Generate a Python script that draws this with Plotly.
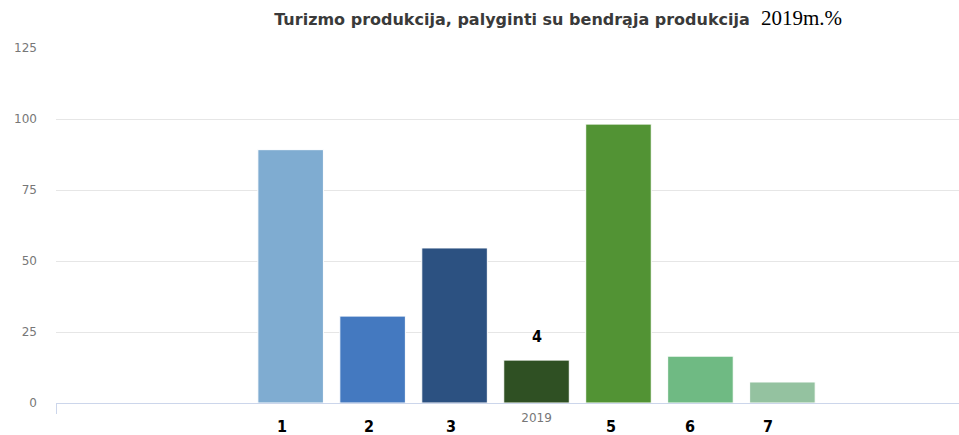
import plotly.graph_objects as go

category = ["2019"]
series_names = ["1", "2", "3", "4", "5", "6", "7"]
values = [89.2, 30.6, 54.6, 15.1, 98.2, 16.5, 7.4]
colors = ["#7FACD1", "#4479C0", "#2C5181", "#2F5023", "#529334", "#6FBA83", "#94C2A0"]
y_ticks = [0, 25, 50, 75, 100, 125]

BARGAP = 0.403
GROUPGAP = 0.2

fig = go.Figure()
for name, v, c in zip(series_names, values, colors):
    fig.add_trace(go.Bar(
        x=category, y=[v], name=name,
        marker=dict(color=c, line=dict(color="white", width=1)),
        showlegend=False, hoverinfo="y",
    ))

n = len(series_names)
slot = (1 - BARGAP) / n
label_xshift = [-9, -4, -4, 0, -7, -10, -14]
label_font = dict(family="DejaVu Sans Condensed", size=16, color="black")
annotations = []
for i, (name, v) in enumerate(zip(series_names, values)):
    xc = (i - (n - 1) / 2) * slot
    if name == "4":
        annotations.append(dict(x=xc, y=v, xref="x", yref="y", text="<b>4</b>",
                                showarrow=False, yanchor="bottom", yshift=12,
                                font=label_font))
    else:
        annotations.append(dict(x=xc, y=0, xref="x", yref="paper", text="<b>%s</b>" % name,
                                showarrow=False, yanchor="middle", yshift=-23, xshift=label_xshift[i],
                                font=label_font))

fig.update_layout(
    width=959, height=435,
    margin=dict(l=56, r=0, t=48, b=32),
    paper_bgcolor="white", plot_bgcolor="white",
    barmode="group", bargap=BARGAP, bargroupgap=GROUPGAP,
    title=dict(
        text='<span style="color:#3a3a3a">Turizmo produkcija, palyginti su bendrąja produkcija</span>'
             '  <span style="font-family:Liberation Serif;font-size:21px;font-weight:normal;color:black">2019m.%</span>',
        x=0.582, xanchor="center", y=0.955, yanchor="middle", yref="container",
        font=dict(family="DejaVu Sans", size=16, color="#3a3a3a", weight="bold"),
    ),
    xaxis=dict(
        type="category", range=[-0.5, 0.4396],
        showline=True, linecolor="#ccd6eb", linewidth=1,
        ticks="outside", ticklen=10, tickcolor="#ccd6eb", tickson="boundaries",
        tickfont=dict(family="DejaVu Sans", size=12, color="#777777"),
        ticklabelstandoff=4,
        showgrid=False, zeroline=False, fixedrange=True,
    ),
    yaxis=dict(
        range=[0, 125], tickvals=y_ticks,
        showgrid=True, gridcolor="#e6e6e6", gridwidth=1,
        zeroline=False, showline=False,
        tickfont=dict(family="DejaVu Sans", size=12, color="#777777"),
        ticklabelstandoff=18,
    ),
    annotations=annotations,
)

fig.write_html(
    "out.html",
    config={"displayModeBar": False},
    post_script="document.body.style.margin='0';document.body.style.overflow='hidden';",
)
